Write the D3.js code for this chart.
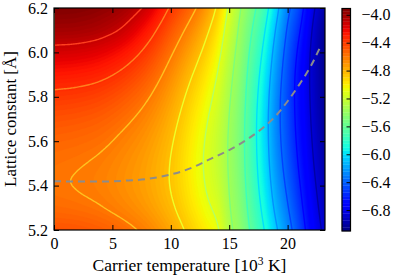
<!DOCTYPE html>
<html>
<head>
<meta charset="utf-8">
<style>
  body { margin: 0; background: #fff; }
  svg text { font-family: "Liberation Serif", serif; }
</style>
</head>
<body>
<svg width="399" height="280"></svg>
<script src="https://d3js.org/d3.v7.min.js"></script>
<script>

// carrier temperature [10^3 K], one entry per grid column
var temps = [0, 2, 4, 6, 8, 10, 12, 13, 14, 15, 16, 17, 18, 19, 20, 21, 22, 23.2];
// lattice constant [A], one entry per grid row
var lattice = [5.2, 5.3, 5.4, 5.5, 5.6, 5.7, 5.8, 5.9, 6.0, 6.1, 6.2];
// values, row by row (bottom row first)
var energy = [
  [-4.470,-4.480,-4.510,-4.560,-4.640,-4.760,-4.920,-5.000,-5.080,-5.300,-5.450,-5.650,-5.850,-6.070,-6.270,-6.480,-6.700,-6.900],
  [-4.554,-4.568,-4.594,-4.643,-4.715,-4.824,-4.983,-5.065,-5.150,-5.334,-5.486,-5.699,-5.911,-6.141,-6.336,-6.537,-6.743,-6.936],
  [-4.589,-4.604,-4.629,-4.679,-4.748,-4.856,-5.019,-5.105,-5.196,-5.356,-5.511,-5.736,-5.958,-6.196,-6.390,-6.584,-6.780,-6.967],
  [-4.577,-4.592,-4.618,-4.669,-4.742,-4.856,-5.030,-5.120,-5.218,-5.368,-5.526,-5.759,-5.990,-6.236,-6.431,-6.622,-6.811,-6.994],
  [-4.536,-4.550,-4.576,-4.631,-4.710,-4.833,-5.014,-5.110,-5.216,-5.368,-5.530,-5.769,-6.007,-6.261,-6.460,-6.650,-6.835,-7.016],
  [-4.470,-4.484,-4.512,-4.570,-4.658,-4.792,-4.980,-5.080,-5.194,-5.354,-5.522,-5.765,-6.008,-6.270,-6.476,-6.669,-6.853,-7.034],
  [-4.382,-4.395,-4.425,-4.488,-4.587,-4.736,-4.929,-5.034,-5.156,-5.329,-5.504,-5.744,-5.988,-6.259,-6.479,-6.679,-6.865,-7.047],
  [-4.273,-4.286,-4.317,-4.386,-4.499,-4.665,-4.863,-4.973,-5.106,-5.293,-5.477,-5.710,-5.951,-6.226,-6.461,-6.675,-6.870,-7.056],
  [-4.144,-4.156,-4.190,-4.265,-4.395,-4.580,-4.782,-4.899,-5.043,-5.248,-5.442,-5.664,-5.898,-6.177,-6.424,-6.641,-6.862,-7.060],
  [-4.010,-4.018,-4.050,-4.126,-4.275,-4.481,-4.688,-4.811,-4.967,-5.193,-5.400,-5.608,-5.831,-6.111,-6.370,-6.582,-6.831,-7.050],
  [-3.910,-3.920,-3.950,-4.010,-4.140,-4.370,-4.580,-4.710,-4.880,-5.130,-5.350,-5.540,-5.750,-6.030,-6.300,-6.500,-6.780,-7.000]
];
// dashed line (lattice constant of the minimum)
var dashT = [0, 2, 4, 6, 8, 10, 11, 12, 13, 14, 15, 16, 17, 18, 19, 20, 21, 22, 22.8];
var dashA = [5.42, 5.418, 5.418, 5.422, 5.43, 5.45, 5.465, 5.485, 5.51, 5.535, 5.56, 5.59, 5.625, 5.665, 5.715, 5.78, 5.855, 5.94, 6.025];
// contour line levels
var levels = [-6.85, -6.6, -6.35, -6.1, -5.85, -5.6, -5.35, -5.1, -4.85, -4.6, -4.35, -4.1];
var xTicks = [0, 5, 10, 15, 20];
var yTicks = [5.2, 5.4, 5.6, 5.8, 6.0, 6.2];
var cbarTicks = [-4.0, -4.4, -4.8, -5.2, -5.6, -6.0, -6.4, -6.8];
var cmin = -7.10, cmax = -3.91;

var svg = d3.select("svg");
var pLeft = 54, pRight = 325, pTop = 8, pBottom = 230;

var x = d3.scaleLinear().domain([0, 23.2]).range([pLeft, pRight]);
var y = d3.scaleLinear().domain([5.2, 6.2]).range([pBottom, pTop]);

// matplotlib jet
var norm = d3.scaleLinear().domain([cmin, cmax]).clamp(true);
var jetR = d3.scaleLinear().domain([0, 0.35, 0.66, 0.89, 1]).range([0, 0, 1, 1, 0.5]);
var jetG = d3.scaleLinear().domain([0, 0.125, 0.375, 0.64, 0.91, 1]).range([0, 0, 1, 1, 0, 0]);
var jetB = d3.scaleLinear().domain([0, 0.11, 0.34, 0.65, 1]).range([0.5, 1, 1, 0, 0]);
function jet(v) {
  var t = norm(v);
  return d3.rgb(255 * jetR(t), 255 * jetG(t), 255 * jetB(t));
}

// smooth interpolation through the read values (cubic hermite)
function spline(xs, ys) {
  var n = xs.length, m = ys.map(function(v, i) {
    var i0 = Math.max(0, i - 1), i1 = Math.min(n - 1, i + 1);
    return (ys[i1] - ys[i0]) / (xs[i1] - xs[i0]);
  });
  return function(xv) {
    var i = Math.min(n - 2, Math.max(0, d3.bisectRight(xs, xv) - 1)),
        h = xs[i + 1] - xs[i], t = (xv - xs[i]) / h, t2 = t * t, t3 = t2 * t;
    return (2*t3 - 3*t2 + 1) * ys[i] + (t3 - 2*t2 + t) * h * m[i]
         + (-2*t3 + 3*t2) * ys[i + 1] + (t3 - t2) * h * m[i + 1];
  };
}

var dT = 0.1, dA = 0.01, nx = 233, ny = 101;
var rowFine = energy.map(function(row) {
  var f = spline(temps, row);
  return d3.range(nx).map(function(i) { return f(i * dT); });
});
var values = new Array(nx * ny);
for (var i = 0; i < nx; i++) {
  var f = spline(lattice, rowFine.map(function(r) { return r[i]; }));
  for (var j = 0; j < ny; j++) values[j * nx + i] = f(5.2 + j * dA);
}

var path = d3.geoPath(d3.geoTransform({
  point: function(px, py) {
    this.stream.point(x((px - 0.5) * dT), y(5.2 + (py - 0.5) * dA));
  }
}));

svg.append("clipPath").attr("id", "clip")
  .append("rect").attr("x", pLeft).attr("y", pTop)
  .attr("width", pRight - pLeft).attr("height", pBottom - pTop);

var plot = svg.append("g").attr("clip-path", "url(#clip)");

// filled map, fine steps so it reads as a smooth image
var fillLevels = d3.range(162).map(function(k) { return -7.12 + k * 0.02; });
plot.append("g")
  .selectAll("path")
  .data(d3.contours().size([nx, ny]).thresholds(fillLevels)(values))
  .enter().append("path")
    .attr("d", path)
    .attr("fill", function(d) { return jet(d.value + 0.01); })
    .attr("stroke", function(d) { return jet(d.value + 0.01); })
    .attr("stroke-width", 0.3);

// contour lines, drawn a shade off the map colour so they stand out
plot.append("g")
  .selectAll("path")
  .data(d3.contours().size([nx, ny]).thresholds(levels)(values))
  .enter().append("path")
    .attr("d", path)
    .attr("fill", "none")
    .attr("stroke", function(d) {
      if (d.value > -5.3) return d3.interpolateRgb(jet(d.value - 0.22), "#fff")(0.12);
      return jet(d.value - 0.15);
    })
    .attr("stroke-width", 1.4);

plot.append("path")
  .datum(d3.zip(dashT, dashA))
  .attr("fill", "none")
  .attr("stroke", "#8c8c8c")
  .attr("stroke-width", 2)
  .attr("stroke-dasharray", "7,5")
  .attr("d", d3.line()
    .x(function(d) { return x(d[0]); })
    .y(function(d) { return y(d[1]); })
    .curve(d3.curveMonotoneX));

// axes, ticks pointing inward on all four sides
function styleAxis(g) {
  g.attr("font-family", null).attr("font-size", null);
  g.select(".domain").remove();
  g.selectAll(".tick line").attr("stroke", "#000").attr("stroke-width", 1);
  g.selectAll("text")
    .attr("font-family", "Liberation Serif")
    .style("font-size", "16px").attr("fill", "#000");
}
svg.append("g").attr("transform", "translate(0," + pBottom + ")")
  .call(d3.axisBottom(x).tickValues(xTicks).tickSize(-5).tickPadding(8).tickFormat(d3.format("d")))
  .call(styleAxis);
svg.append("g").attr("transform", "translate(0," + pTop + ")")
  .call(d3.axisTop(x).tickValues(xTicks).tickSize(-5).tickFormat(""))
  .call(styleAxis);
svg.append("g").attr("transform", "translate(" + pLeft + ",0)")
  .call(d3.axisLeft(y).tickValues(yTicks).tickSize(-5).tickPadding(6).tickFormat(d3.format(".1f")))
  .call(styleAxis);
svg.append("g").attr("transform", "translate(" + pRight + ",0)")
  .call(d3.axisRight(y).tickValues(yTicks).tickSize(-5).tickFormat(""))
  .call(styleAxis);

svg.append("rect")
  .attr("x", pLeft).attr("y", pTop)
  .attr("width", pRight - pLeft).attr("height", pBottom - pTop)
  .attr("fill", "none").attr("stroke", "#000").attr("stroke-width", 1.2);

var xl = svg.append("text")
  .attr("x", (pLeft + pRight) / 2).attr("y", 271)
  .attr("text-anchor", "middle").style("font-size", "17.5px");
xl.append("tspan").text("Carrier temperature [10");
xl.append("tspan").attr("dy", -6).style("font-size", "11.5px").text("3");
xl.append("tspan").attr("dy", 6).text(" K]");

svg.append("text")
  .attr("transform", "translate(16," + (pTop + pBottom) / 2 + ") rotate(-90)")
  .attr("text-anchor", "middle").style("font-size", "17px")
  .text("Lattice constant [Å]");

// colorbar
var cbLeft = 342, cbRight = 350.5, cbTop = 8.5, cbBottom = 231;
var bandLevels = d3.range(66).map(function(k) { return -7.15 + k * 0.05; });
var cb = d3.scaleLinear().domain([cmin, cmax]).range([cbBottom, cbTop]);
svg.append("g")
  .selectAll("rect")
  .data(bandLevels)
  .enter().append("rect")
    .attr("x", cbLeft).attr("width", cbRight - cbLeft)
    .attr("y", function(d) { return cb(Math.min(d + 0.05, cmax)); })
    .attr("height", function(d) { return Math.max(0, cb(Math.max(d, cmin)) - cb(Math.min(d + 0.05, cmax))); })
    .attr("fill", function(d) { return jet(d + 0.025); })
    .attr("stroke", function(d) { return jet(d + 0.025); })
    .attr("stroke-width", 0.3);

svg.append("g").attr("transform", "translate(" + cbRight + ",0)")
  .call(d3.axisRight(cb).tickValues(cbarTicks).tickSize(-4).tickPadding(11).tickFormat(d3.format(".1f")))
  .call(styleAxis);

svg.append("rect")
  .attr("x", cbLeft).attr("y", cbTop)
  .attr("width", cbRight - cbLeft).attr("height", cbBottom - cbTop)
  .attr("fill", "none").attr("stroke", "#000").attr("stroke-width", 1.2);

</script>
</body>
</html>
